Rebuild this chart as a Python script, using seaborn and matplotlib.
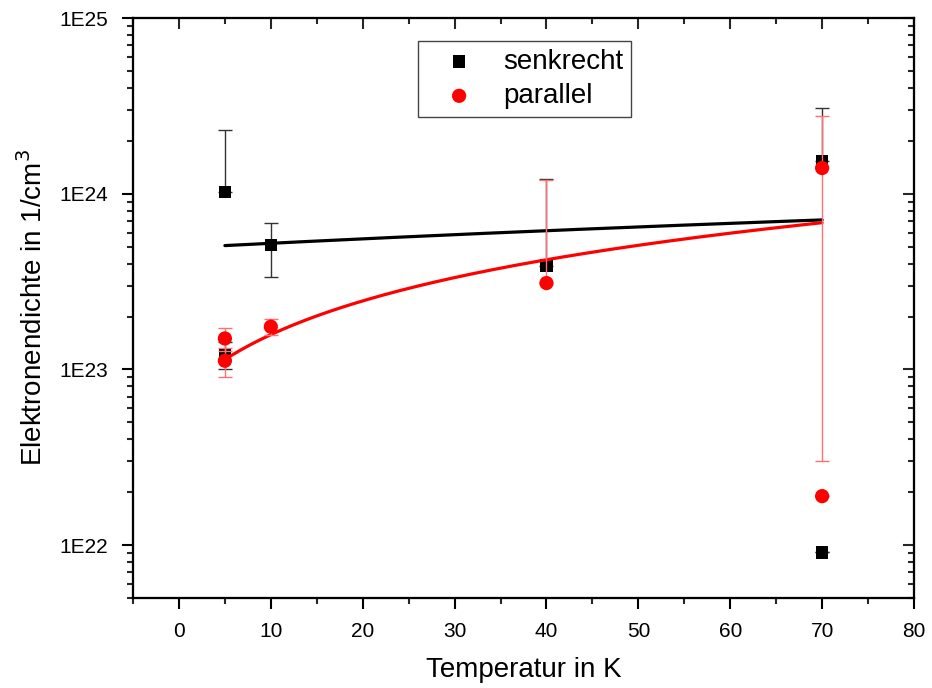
import numpy as np
import pandas as pd
import matplotlib
matplotlib.use("Agg")
import matplotlib.pyplot as plt
from matplotlib.ticker import FixedLocator, MultipleLocator, LogLocator, FuncFormatter, NullFormatter
import seaborn as sns

# Messwerte: Elektronendichte über Temperatur
temp_senkrecht = [5, 5, 10, 40, 70, 70]
n_senkrecht = [1.02e24, 1.22e23, 5.1e23, 3.9e23, 1.54e24, 9.1e21]
err_senkrecht = [1.28e24, 0.22e23, 1.75e23, 8.3e23, 1.55e24, 0.0]

temp_parallel = [5, 5, 10, 40, 70, 70]
n_parallel = [1.5e23, 1.12e23, 1.75e23, 3.1e23, 1.40e24, 1.9e22]
err_parallel = [0.23e23, 0.21e23, 0.19e23, 8.8e23, 1.37e24, 0.0]

# lineare Fits n(T) = a + b*T
fit_senkrecht = (4.91e23, 3.12e21)
fit_parallel = (0.70e23, 8.77e21)
fit_range = (5, 70)

x_ticks = [0, 10, 20, 30, 40, 50, 60, 70, 80]
y_ticks = [1e22, 1e23, 1e24, 1e25]

sns.set_theme(style="ticks")
plt.rcParams["font.family"] = ["Liberation Sans", "DejaVu Sans"]
plt.rcParams["axes.linewidth"] = 1.5
plt.rcParams["text.color"] = "black"
plt.rcParams["axes.labelcolor"] = "black"

fig = plt.figure(figsize=(9.32, 6.88), dpi=100)
ax = fig.add_axes([133 / 932, 1 - 598 / 688, (914 - 133) / 932, (598 - 18) / 688])
ax.set_yscale("log")

df_s = pd.DataFrame({"T": temp_senkrecht, "n": n_senkrecht, "err": err_senkrecht})
df_p = pd.DataFrame({"T": temp_parallel, "n": n_parallel, "err": err_parallel})

t_fit = np.linspace(fit_range[0], fit_range[1], 200)
fit_s = pd.DataFrame({"T": t_fit, "n": fit_senkrecht[0] + fit_senkrecht[1] * t_fit})
fit_p = pd.DataFrame({"T": t_fit, "n": fit_parallel[0] + fit_parallel[1] * t_fit})


def lower_err(df):
    # untere Fehlerbalken nur zeichnen, wenn sie im positiven Bereich bleiben
    return np.where(df["n"] - df["err"] > 0, df["err"], 0.0)


sns.lineplot(data=fit_s, x="T", y="n", color="black", lw=2.3, ax=ax, legend=False, zorder=2)
ax.errorbar(df_s["T"], df_s["n"], yerr=[lower_err(df_s), df_s["err"]], fmt="none",
            ecolor="#333333", elinewidth=1.0, capsize=5, capthick=1.0, zorder=2.5)
sns.scatterplot(data=df_s, x="T", y="n", marker="s", color="black", s=80,
                edgecolor="none", ax=ax, label="senkrecht", zorder=3)

sns.lineplot(data=fit_p, x="T", y="n", color="red", lw=2.3, ax=ax, legend=False, zorder=3.5)
ax.errorbar(df_p["T"], df_p["n"], yerr=[lower_err(df_p), df_p["err"]], fmt="none",
            ecolor="#ff7070", elinewidth=1.0, capsize=5, capthick=1.0, zorder=3.6)
sns.scatterplot(data=df_p, x="T", y="n", marker="o", color="red", s=105,
                edgecolor="none", ax=ax, label="parallel", zorder=4)

ax.set_xlim(-5, 80)
ax.set_ylim(5e21, 1e25)

ax.xaxis.set_major_locator(FixedLocator(x_ticks))
ax.xaxis.set_minor_locator(MultipleLocator(5))
ax.yaxis.set_major_locator(FixedLocator(y_ticks))
ax.yaxis.set_minor_locator(LogLocator(base=10, subs=np.arange(2, 10)))
ax.yaxis.set_major_formatter(FuncFormatter(lambda v, p: f"1E{int(round(np.log10(v)))}"))
ax.yaxis.set_minor_formatter(NullFormatter())

ax.tick_params(axis="both", which="major", direction="out", length=8, width=1.5,
               labelsize=15, colors="black")
ax.tick_params(axis="y", which="major", pad=10)
ax.tick_params(axis="x", which="major", pad=9)
ax.tick_params(axis="both", which="minor", direction="out", length=4.5, width=1.5)

ax.set_xlabel("Temperatur in K", fontsize=20, labelpad=12)
ax.set_ylabel(r"Elektronendichte in 1/cm$^3$", fontsize=20, labelpad=8)

for sp in ax.spines.values():
    sp.set_visible(True)
    sp.set_linewidth(1.5)
    sp.set_color("black")

# gespiegelte Achsen oben und rechts mit nach innen zeigenden Ticks
axr = ax.twinx()
axr.set_yscale("log")
axr.set_ylim(ax.get_ylim())
axr.yaxis.set_major_locator(FixedLocator(y_ticks))
axr.yaxis.set_minor_locator(LogLocator(base=10, subs=np.arange(2, 10)))
axr.tick_params(axis="y", which="major", direction="in", length=8, width=1.5, labelright=False)
axr.tick_params(axis="y", which="minor", direction="in", length=4.5, width=1.5, labelright=False)

axt = ax.twiny()
axt.set_xlim(ax.get_xlim())
axt.xaxis.set_major_locator(FixedLocator(x_ticks))
axt.xaxis.set_minor_locator(MultipleLocator(5))
axt.tick_params(axis="x", which="major", direction="in", length=8, width=1.5, labeltop=False)
axt.tick_params(axis="x", which="minor", direction="in", length=4.5, width=1.5, labeltop=False)
for a in (axr, axt):
    for sp in a.spines.values():
        sp.set_linewidth(1.5)
        sp.set_color("black")

leg = ax.legend(loc="upper left", bbox_to_anchor=((418 - 133) / 781, (598 - 41) / 580),
                borderaxespad=0, fontsize=20, frameon=True, fancybox=False,
                handlelength=2.4, handletextpad=0.4, borderpad=0.28, labelspacing=0.3,
                edgecolor="#444444", framealpha=1)
leg.get_frame().set_linewidth(1.0)
leg.set_zorder(10)

fig.savefig("out.png", dpi=100, facecolor="white")
